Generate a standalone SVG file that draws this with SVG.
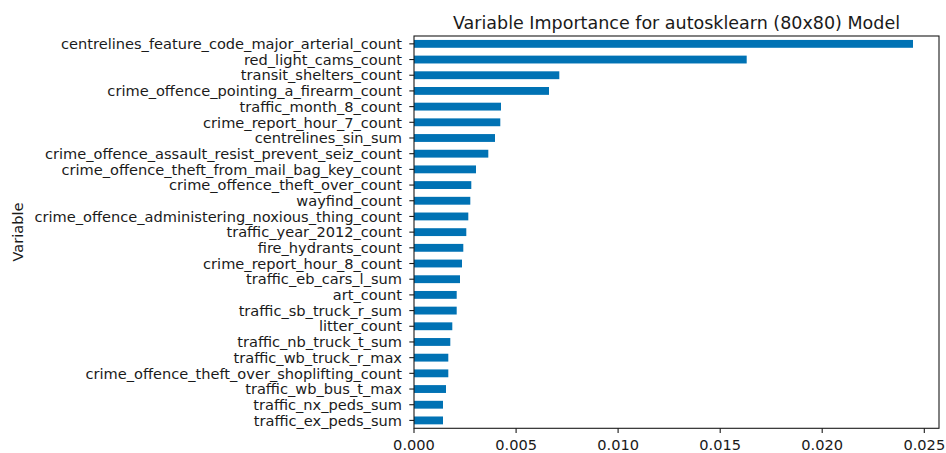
<svg xmlns="http://www.w3.org/2000/svg" width="946" height="453" viewBox="0 0 946 453">
  <style>
    text { font-family: "DejaVu Sans", "Liberation Sans", sans-serif; fill: #1a1a1a; }
    .ylab { font-size: 14.6px; text-anchor: end; }
    .xlab { font-size: 14.6px; text-anchor: middle; }
    .title { font-size: 17.5px; text-anchor: middle; }
    .axlab { font-size: 14.6px; text-anchor: middle; }
    .bar { fill: #0072b4; }
    .tick { stroke: #1a1a1a; stroke-width: 1.1; }
    .frame { fill: none; stroke: #1a1a1a; stroke-width: 1.1; }
  </style>
  <rect width="946" height="453" fill="#ffffff"/>

  <text class="title" x="676.5" y="28.5">Variable Importance for autosklearn (80x80) Model</text>
  <text class="axlab" transform="translate(23,232) rotate(-90)">Variable</text>

  <!-- bars: row i centred at 43.85 + 15.69*i, 7.85 tall, starting at x=414 -->
  <g id="bar-centrelines_feature_code_major_arterial_count"><rect class="bar" x="414" y="39.93" width="499" height="7.85"/><line class="tick" x1="409.3" y1="43.85" x2="414" y2="43.85"/><text class="ylab" x="402" y="49.05">centrelines_feature_code_major_arterial_count</text></g>
  <g id="bar-red_light_cams_count"><rect class="bar" x="414" y="55.62" width="332.7" height="7.85"/><line class="tick" x1="409.3" y1="59.54" x2="414" y2="59.54"/><text class="ylab" x="402" y="64.74">red_light_cams_count</text></g>
  <g id="bar-transit_shelters_count"><rect class="bar" x="414" y="71.31" width="145.3" height="7.85"/><line class="tick" x1="409.3" y1="75.23" x2="414" y2="75.23"/><text class="ylab" x="402" y="80.43">transit_shelters_count</text></g>
  <g id="bar-crime_offence_pointing_a_firearm_count"><rect class="bar" x="414" y="87.00" width="135" height="7.85"/><line class="tick" x1="409.3" y1="90.92" x2="414" y2="90.92"/><text class="ylab" x="402" y="96.12">crime_offence_pointing_a_firearm_count</text></g>
  <g id="bar-traffic_month_8_count"><rect class="bar" x="414" y="102.69" width="87" height="7.85"/><line class="tick" x1="409.3" y1="106.61" x2="414" y2="106.61"/><text class="ylab" x="402" y="111.81">traffic_month_8_count</text></g>
  <g id="bar-crime_report_hour_7_count"><rect class="bar" x="414" y="118.38" width="86.3" height="7.85"/><line class="tick" x1="409.3" y1="122.30" x2="414" y2="122.30"/><text class="ylab" x="402" y="127.50">crime_report_hour_7_count</text></g>
  <g id="bar-centrelines_sin_sum"><rect class="bar" x="414" y="134.07" width="81" height="7.85"/><line class="tick" x1="409.3" y1="137.99" x2="414" y2="137.99"/><text class="ylab" x="402" y="143.19">centrelines_sin_sum</text></g>
  <g id="bar-crime_offence_assault_resist_prevent_seiz_count"><rect class="bar" x="414" y="149.76" width="74.3" height="7.85"/><line class="tick" x1="409.3" y1="153.68" x2="414" y2="153.68"/><text class="ylab" x="402" y="158.88">crime_offence_assault_resist_prevent_seiz_count</text></g>
  <g id="bar-crime_offence_theft_from_mail_bag_key_count"><rect class="bar" x="414" y="165.45" width="62" height="7.85"/><line class="tick" x1="409.3" y1="169.37" x2="414" y2="169.37"/><text class="ylab" x="402" y="174.57">crime_offence_theft_from_mail_bag_key_count</text></g>
  <g id="bar-crime_offence_theft_over_count"><rect class="bar" x="414" y="181.14" width="57.3" height="7.85"/><line class="tick" x1="409.3" y1="185.06" x2="414" y2="185.06"/><text class="ylab" x="402" y="190.26">crime_offence_theft_over_count</text></g>
  <g id="bar-wayfind_count"><rect class="bar" x="414" y="196.83" width="56.3" height="7.85"/><line class="tick" x1="409.3" y1="200.75" x2="414" y2="200.75"/><text class="ylab" x="402" y="205.95">wayfind_count</text></g>
  <g id="bar-crime_offence_administering_noxious_thing_count"><rect class="bar" x="414" y="212.52" width="54.3" height="7.85"/><line class="tick" x1="409.3" y1="216.44" x2="414" y2="216.44"/><text class="ylab" x="402" y="221.64">crime_offence_administering_noxious_thing_count</text></g>
  <g id="bar-traffic_year_2012_count"><rect class="bar" x="414" y="228.21" width="52.3" height="7.85"/><line class="tick" x1="409.3" y1="232.13" x2="414" y2="232.13"/><text class="ylab" x="402" y="237.33">traffic_year_2012_count</text></g>
  <g id="bar-fire_hydrants_count"><rect class="bar" x="414" y="243.90" width="49.3" height="7.85"/><line class="tick" x1="409.3" y1="247.82" x2="414" y2="247.82"/><text class="ylab" x="402" y="253.02">fire_hydrants_count</text></g>
  <g id="bar-crime_report_hour_8_count"><rect class="bar" x="414" y="259.59" width="48" height="7.85"/><line class="tick" x1="409.3" y1="263.51" x2="414" y2="263.51"/><text class="ylab" x="402" y="268.71">crime_report_hour_8_count</text></g>
  <g id="bar-traffic_eb_cars_l_sum"><rect class="bar" x="414" y="275.28" width="46" height="7.85"/><line class="tick" x1="409.3" y1="279.20" x2="414" y2="279.20"/><text class="ylab" x="402" y="284.40">traffic_eb_cars_l_sum</text></g>
  <g id="bar-art_count"><rect class="bar" x="414" y="290.97" width="42.7" height="7.85"/><line class="tick" x1="409.3" y1="294.89" x2="414" y2="294.89"/><text class="ylab" x="402" y="300.09">art_count</text></g>
  <g id="bar-traffic_sb_truck_r_sum"><rect class="bar" x="414" y="306.66" width="42.7" height="7.85"/><line class="tick" x1="409.3" y1="310.58" x2="414" y2="310.58"/><text class="ylab" x="402" y="315.78">traffic_sb_truck_r_sum</text></g>
  <g id="bar-litter_count"><rect class="bar" x="414" y="322.35" width="38.3" height="7.85"/><line class="tick" x1="409.3" y1="326.27" x2="414" y2="326.27"/><text class="ylab" x="402" y="331.47">litter_count</text></g>
  <g id="bar-traffic_nb_truck_t_sum"><rect class="bar" x="414" y="338.04" width="36.3" height="7.85"/><line class="tick" x1="409.3" y1="341.96" x2="414" y2="341.96"/><text class="ylab" x="402" y="347.16">traffic_nb_truck_t_sum</text></g>
  <g id="bar-traffic_wb_truck_r_max"><rect class="bar" x="414" y="353.73" width="34.3" height="7.85"/><line class="tick" x1="409.3" y1="357.65" x2="414" y2="357.65"/><text class="ylab" x="402" y="362.85">traffic_wb_truck_r_max</text></g>
  <g id="bar-crime_offence_theft_over_shoplifting_count"><rect class="bar" x="414" y="369.42" width="34.3" height="7.85"/><line class="tick" x1="409.3" y1="373.34" x2="414" y2="373.34"/><text class="ylab" x="402" y="378.54">crime_offence_theft_over_shoplifting_count</text></g>
  <g id="bar-traffic_wb_bus_t_max"><rect class="bar" x="414" y="385.11" width="32" height="7.85"/><line class="tick" x1="409.3" y1="389.03" x2="414" y2="389.03"/><text class="ylab" x="402" y="394.23">traffic_wb_bus_t_max</text></g>
  <g id="bar-traffic_nx_peds_sum"><rect class="bar" x="414" y="400.80" width="29" height="7.85"/><line class="tick" x1="409.3" y1="404.72" x2="414" y2="404.72"/><text class="ylab" x="402" y="409.92">traffic_nx_peds_sum</text></g>
  <g id="bar-traffic_ex_peds_sum"><rect class="bar" x="414" y="416.49" width="29" height="7.85"/><line class="tick" x1="409.3" y1="420.41" x2="414" y2="420.41"/><text class="ylab" x="402" y="425.61">traffic_ex_peds_sum</text></g>

  <!-- axes frame -->
  <rect class="frame" x="414" y="36" width="525" height="392.3"/>

  <!-- x axis ticks and labels -->
  <g id="x-axis">
    <line class="tick" x1="414" y1="428.3" x2="414" y2="433"/>
    <line class="tick" x1="516.1" y1="428.3" x2="516.1" y2="433"/>
    <line class="tick" x1="618.1" y1="428.3" x2="618.1" y2="433"/>
    <line class="tick" x1="720.2" y1="428.3" x2="720.2" y2="433"/>
    <line class="tick" x1="822.2" y1="428.3" x2="822.2" y2="433"/>
    <line class="tick" x1="924.3" y1="428.3" x2="924.3" y2="433"/>
    <text class="xlab" x="414" y="450">0.000</text>
    <text class="xlab" x="516.1" y="450">0.005</text>
    <text class="xlab" x="618.1" y="450">0.010</text>
    <text class="xlab" x="720.2" y="450">0.015</text>
    <text class="xlab" x="822.2" y="450">0.020</text>
    <text class="xlab" x="924.3" y="450">0.025</text>
  </g>
</svg>
